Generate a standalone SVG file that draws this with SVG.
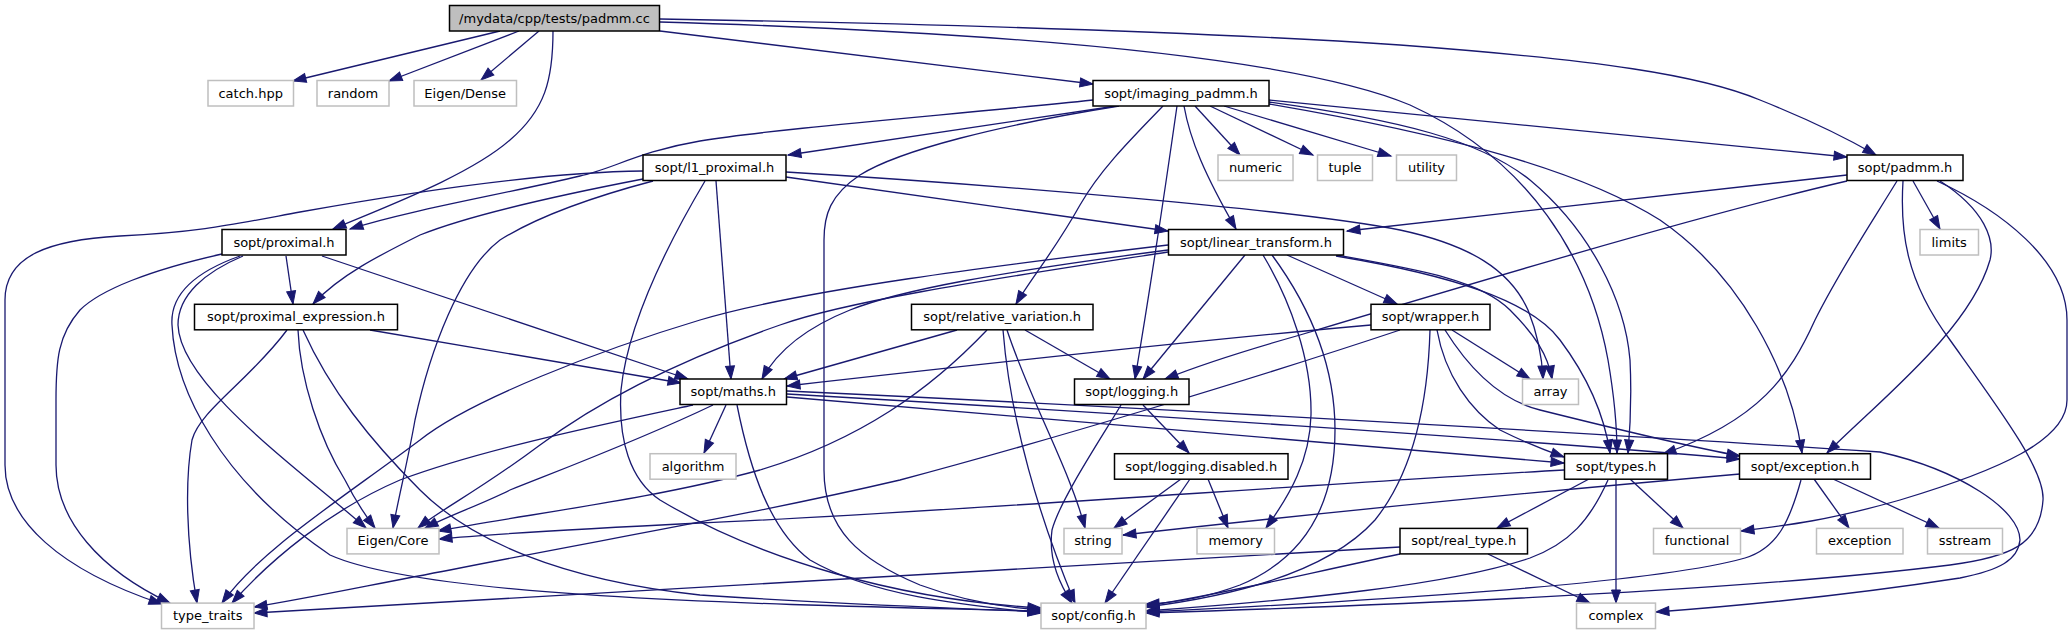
<svg xmlns="http://www.w3.org/2000/svg" width="2072" height="635" viewBox="0 0 2072 635">
<style>
.e{fill:none;stroke:#191970;stroke-width:1.3;marker-end:url(#a)}
.n rect{fill:#fff;stroke:#000;stroke-width:1.5}
.x rect{fill:#fff;stroke:#bfbfbf;stroke-width:1.5}
.r rect{fill:#bfbfbf;stroke:#000;stroke-width:1.5}
text{font-family:"DejaVu Sans",Verdana,sans-serif;font-size:13px;text-anchor:middle;fill:#000}
</style>
<defs>
<marker id="a" markerUnits="userSpaceOnUse" markerWidth="14" markerHeight="10" refX="13" refY="4.5" orient="auto" overflow="visible">
<path d="M0,0 L13,4.5 L0,9 z" fill="#191970" stroke="#191970" stroke-width="1"/>
</marker>
</defs>
<rect width="2072" height="635" fill="#fff"/>
<g id="edges">
<path class="e" d="M500,31 L293,81"/>
<path class="e" d="M519,31 L389,81"/>
<path class="e" d="M539,31 L481,80"/>
<path class="e" d="M553,31 C553,80 545,110 510,140 C470,175 390,205 333,229"/>
<path class="e" d="M660,31 L1093,84"/>
<path class="e" d="M660,22 C1000,32 1290,55 1410,105 C1530,160 1590,260 1608,360 C1614,395 1617,425 1617,453"/>
<path class="e" d="M660,19 C1000,25 1250,35 1400,45 C1600,60 1700,75 1760,100 C1810,120 1850,140 1876,155"/>
<path class="e" d="M1093,100 C950,115 780,128 700,141 C640,151 610,170 580,176 C500,195 410,210 350,229"/>
<path class="e" d="M1116,106 L788,155"/>
<path class="e" d="M1119,106 C1000,125 900,150 860,175 C830,195 824,215 824,240 L824,470 C824,530 860,560 920,585 C960,600 1000,607 1041,610"/>
<path class="e" d="M1163,106 C1130,140 1100,170 1080,205 C1055,250 1030,280 1016,304"/>
<path class="e" d="M1177,106 C1165,190 1150,290 1135,379"/>
<path class="e" d="M1184,106 C1190,140 1205,175 1236,229"/>
<path class="e" d="M1195,106 L1240,155"/>
<path class="e" d="M1210,106 L1313,155"/>
<path class="e" d="M1224,106 L1391,156"/>
<path class="e" d="M1269,100 L1847,157"/>
<path class="e" d="M1269,102 C1400,120 1480,140 1530,180 C1590,230 1625,300 1630,360 C1632,400 1630,430 1628,453"/>
<path class="e" d="M1269,104 C1450,135 1580,170 1660,220 C1740,275 1790,370 1802,453"/>
<path class="e" d="M643,171 C560,172 450,185 300,212 C230,225 200,232 120,236 C50,240 5,255 5,300 L5,465 C5,520 60,570 162,604"/>
<path class="e" d="M643,179 C560,195 470,215 420,235 C380,255 340,275 313,304"/>
<path class="e" d="M653,181 C600,195 540,215 500,240 C460,270 430,350 415,420 C408,460 398,500 393,528"/>
<path class="e" d="M705,181 C670,240 628,320 621,390 C618,440 630,480 660,500 C760,560 900,600 1041,608"/>
<path class="e" d="M716,181 L731,379"/>
<path class="e" d="M786,177 L1168,231"/>
<path class="e" d="M786,172 C1000,185 1300,210 1400,230 C1470,245 1510,270 1528,310 C1538,335 1542,355 1543,379"/>
<path class="e" d="M286,256 L293,304"/>
<path class="e" d="M322,256 L688,379"/>
<path class="e" d="M243,256 C205,272 178,295 178,325 C180,385 300,470 366,528"/>
<path class="e" d="M240,256 C195,272 170,295 172,325 C175,390 220,480 330,555 C430,600 800,605 1041,611"/>
<path class="e" d="M222,254 C150,270 100,290 80,310 C58,335 56,360 56,400 L56,465 C56,520 100,570 170,603"/>
<path class="e" d="M370,330 L681,383"/>
<path class="e" d="M287,330 C250,380 200,410 192,440 C185,480 186,540 197,603"/>
<path class="e" d="M298,330 C300,380 320,440 345,480 C355,500 365,515 375,528"/>
<path class="e" d="M303,330 C330,390 370,440 420,490 C470,540 560,580 700,595 C850,605 960,608 1041,612"/>
<path class="e" d="M957,330 L784,379"/>
<path class="e" d="M987,330 C930,390 860,440 760,470 C650,500 520,515 438,531"/>
<path class="e" d="M1025,330 L1110,379"/>
<path class="e" d="M1007,330 C1030,400 1070,470 1085,528"/>
<path class="e" d="M1003,330 C1010,420 1040,520 1075,603"/>
<path class="e" d="M1168,250 C1000,272 900,290 850,310 C800,330 775,355 762,379"/>
<path class="e" d="M1168,245 C1000,265 800,290 700,320 C600,350 470,400 420,440 C340,500 260,550 222,603"/>
<path class="e" d="M1168,252 C1000,278 850,300 780,325 C680,360 600,400 540,445 C480,490 440,510 418,528"/>
<path class="e" d="M1245,255 L1143,379"/>
<path class="e" d="M1287,255 L1397,304"/>
<path class="e" d="M1336,255 C1420,270 1480,280 1510,310 C1535,335 1548,355 1552,379"/>
<path class="e" d="M1336,256 C1450,275 1530,300 1560,340 C1590,380 1605,420 1610,453"/>
<path class="e" d="M1263,255 C1290,300 1312,360 1311,415 C1310,460 1290,495 1266,528"/>
<path class="e" d="M1272,255 C1305,300 1335,360 1335,430 C1335,510 1300,560 1240,585 C1200,600 1170,603 1146,604"/>
<path class="e" d="M1371,325 C1200,340 1000,362 787,386"/>
<path class="e" d="M1400,330 C1250,380 1050,440 900,480 C750,515 600,540 450,570 C370,585 310,598 254,607"/>
<path class="e" d="M1452,330 L1530,379"/>
<path class="e" d="M1437,330 C1445,375 1470,410 1500,430 C1530,445 1550,452 1564,457"/>
<path class="e" d="M1445,330 C1470,370 1500,400 1540,410 C1600,425 1680,445 1740,456"/>
<path class="e" d="M1430,330 C1428,400 1415,470 1375,520 C1330,570 1240,595 1146,607"/>
<path class="e" d="M693,405 C600,425 480,450 400,480 C330,510 270,560 232,603"/>
<path class="e" d="M713,405 C640,440 560,470 510,490 C480,505 450,515 425,528"/>
<path class="e" d="M726,405 L704,453"/>
<path class="e" d="M737,405 C750,470 770,530 810,560 C870,595 960,605 1041,613"/>
<path class="e" d="M787,397 L1564,463"/>
<path class="e" d="M787,394 C1100,412 1500,438 1740,459"/>
<path class="e" d="M787,391 C1200,410 1700,440 1880,452 C1960,470 2020,510 2020,540 C2018,560 2000,570 1960,578 C1850,595 1750,605 1656,612"/>
<path class="e" d="M1143,405 L1189,453"/>
<path class="e" d="M1121,405 C1100,440 1060,500 1052,530 C1048,560 1060,585 1072,603"/>
<path class="e" d="M1181,479 L1114,528"/>
<path class="e" d="M1208,479 L1228,528"/>
<path class="e" d="M1190,479 L1105,603"/>
<path class="e" d="M1564,470 C1300,485 900,515 700,523 C600,528 500,533 439,539"/>
<path class="e" d="M1589,479 L1497,528"/>
<path class="e" d="M1608,480 C1590,520 1570,543 1530,558 C1450,585 1300,600 1146,611"/>
<path class="e" d="M1616,479 L1616,603"/>
<path class="e" d="M1630,479 L1683,528"/>
<path class="e" d="M1740,474 C1500,495 1300,515 1123,535"/>
<path class="e" d="M1801,480 C1790,520 1778,548 1745,558 C1650,585 1350,602 1146,612"/>
<path class="e" d="M1814,479 L1849,528"/>
<path class="e" d="M1833,479 L1939,528"/>
<path class="e" d="M1400,547 C1100,565 700,590 254,613"/>
<path class="e" d="M1400,554 C1300,575 1220,595 1146,606"/>
<path class="e" d="M1488,554 L1590,603"/>
<path class="e" d="M1847,175 L1347,231"/>
<path class="e" d="M1847,181 C1700,215 1450,290 1300,335 C1240,352 1200,365 1165,379"/>
<path class="e" d="M1897,181 C1870,225 1840,270 1815,320 C1790,375 1760,420 1663,454"/>
<path class="e" d="M1940,181 C1985,210 1995,240 1990,260 C1970,330 1880,400 1827,453"/>
<path class="e" d="M1913,181 L1940,229"/>
<path class="e" d="M1903,181 C1900,230 1905,280 1950,340 C2000,410 2045,470 2043,500 C2040,545 2010,557 1950,565 C1750,590 1400,605 1146,613"/>
<path class="e" d="M1937,181 C2000,210 2067,260 2067,320 L2067,400 C2067,440 2000,470 1900,500 C1830,520 1790,525 1741,531"/>
</g>
<g id="n_padmm_cc" class="r"><rect x="449.5" y="5.5" width="210" height="25.5"/><text x="554.5" y="22.5">/mydata/cpp/tests/padmm.cc</text></g>
<g id="n_catch" class="x"><rect x="208" y="80.5" width="85.5" height="25.5"/><text x="250.7" y="97.5">catch.hpp</text></g>
<g id="n_random" class="x"><rect x="317" y="80.5" width="72" height="25.5"/><text x="353" y="97.5">random</text></g>
<g id="n_eigen_dense" class="x"><rect x="414" y="80.5" width="102.5" height="25.5"/><text x="465.2" y="97.5">Eigen/Dense</text></g>
<g id="n_imaging_padmm" class="n"><rect x="1093" y="80.5" width="176" height="25.5"/><text x="1181" y="97.5">sopt/imaging_padmm.h</text></g>
<g id="n_l1_proximal" class="n"><rect x="643" y="155" width="143" height="25.5"/><text x="714.5" y="172">sopt/l1_proximal.h</text></g>
<g id="n_numeric" class="x"><rect x="1218" y="155" width="75" height="25.5"/><text x="1255.5" y="172">numeric</text></g>
<g id="n_tuple" class="x"><rect x="1317.5" y="155" width="55" height="25.5"/><text x="1345" y="172">tuple</text></g>
<g id="n_utility" class="x"><rect x="1396.5" y="155" width="60" height="25.5"/><text x="1426.5" y="172">utility</text></g>
<g id="n_padmm_h" class="n"><rect x="1847" y="155" width="116" height="25.5"/><text x="1905" y="172">sopt/padmm.h</text></g>
<g id="n_proximal" class="n"><rect x="222" y="229.5" width="124" height="25.5"/><text x="284" y="246.5">sopt/proximal.h</text></g>
<g id="n_linear_transform" class="n"><rect x="1168.5" y="229.5" width="175" height="25.5"/><text x="1256" y="246.5">sopt/linear_transform.h</text></g>
<g id="n_limits" class="x"><rect x="1920" y="229.5" width="58.5" height="25.5"/><text x="1949.2" y="246.5">limits</text></g>
<g id="n_proximal_expression" class="n"><rect x="194.5" y="304.3" width="203" height="25.5"/><text x="296" y="321.3">sopt/proximal_expression.h</text></g>
<g id="n_relative_variation" class="n"><rect x="911.5" y="304.3" width="181.5" height="25.5"/><text x="1002.2" y="321.3">sopt/relative_variation.h</text></g>
<g id="n_wrapper" class="n"><rect x="1371" y="304.3" width="119" height="25.5"/><text x="1430.5" y="321.3">sopt/wrapper.h</text></g>
<g id="n_maths" class="n"><rect x="680" y="379" width="106.5" height="25.5"/><text x="733.2" y="396">sopt/maths.h</text></g>
<g id="n_logging" class="n"><rect x="1074.5" y="379" width="114.5" height="25.5"/><text x="1131.7" y="396">sopt/logging.h</text></g>
<g id="n_array" class="x"><rect x="1522.5" y="379" width="56" height="25.5"/><text x="1550.5" y="396">array</text></g>
<g id="n_algorithm" class="x"><rect x="650" y="453.7" width="86" height="25.5"/><text x="693" y="470.7">algorithm</text></g>
<g id="n_logging_disabled" class="n"><rect x="1114.5" y="453.7" width="173.5" height="25.5"/><text x="1201.2" y="470.7">sopt/logging.disabled.h</text></g>
<g id="n_types" class="n"><rect x="1564.5" y="453.7" width="103" height="25.5"/><text x="1616" y="470.7">sopt/types.h</text></g>
<g id="n_exception_h" class="n"><rect x="1739.5" y="453.7" width="131" height="25.5"/><text x="1805" y="470.7">sopt/exception.h</text></g>
<g id="n_eigen_core" class="x"><rect x="347" y="528.4" width="92" height="25.5"/><text x="393" y="545.4">Eigen/Core</text></g>
<g id="n_string" class="x"><rect x="1064" y="528.4" width="58" height="25.5"/><text x="1093" y="545.4">string</text></g>
<g id="n_memory" class="x"><rect x="1197" y="528.4" width="77.5" height="25.5"/><text x="1235.7" y="545.4">memory</text></g>
<g id="n_real_type" class="n"><rect x="1400" y="528.4" width="127.5" height="25.5"/><text x="1463.7" y="545.4">sopt/real_type.h</text></g>
<g id="n_functional" class="x"><rect x="1653.5" y="528.4" width="87" height="25.5"/><text x="1697" y="545.4">functional</text></g>
<g id="n_exception" class="x"><rect x="1816.5" y="528.4" width="86.5" height="25.5"/><text x="1859.7" y="545.4">exception</text></g>
<g id="n_sstream" class="x"><rect x="1927.5" y="528.4" width="75" height="25.5"/><text x="1965" y="545.4">sstream</text></g>
<g id="n_type_traits" class="x"><rect x="161.5" y="603.1" width="92.5" height="25.5"/><text x="207.7" y="620.1">type_traits</text></g>
<g id="n_config" class="x"><rect x="1041" y="603.1" width="105" height="25.5"/><text x="1093.5" y="620.1">sopt/config.h</text></g>
<g id="n_complex" class="x"><rect x="1576.5" y="603.1" width="79" height="25.5"/><text x="1616" y="620.1">complex</text></g>
</svg>
